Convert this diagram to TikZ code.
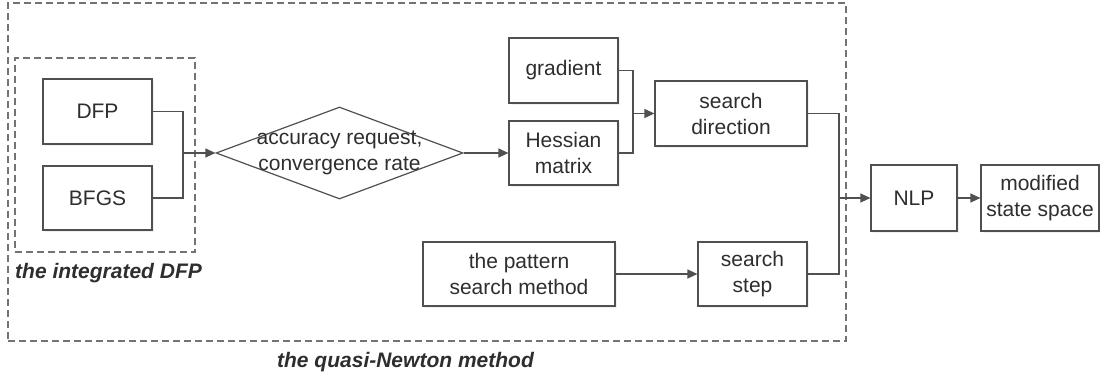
\documentclass[tikz,border=0pt]{standalone}
\usepackage{fontspec}
\setmainfont{Liberation Sans}
\usetikzlibrary{shapes.geometric,arrows.meta,shadows}
\definecolor{linec}{HTML}{505050}
\definecolor{textc}{HTML}{2E2E2E}
\tikzset{
  box/.style={draw=linec, line width=1.2pt, fill=white, align=center, inner sep=0pt,
    text=textc, font=\fontsize{21}{26}\selectfont,
    drop shadow={opacity=0.12, shadow xshift=1.5pt, shadow yshift=-1.5pt}},
  dbox/.style={draw=linec!80, line width=1.2pt, dash pattern=on 7pt off 4pt, inner sep=0pt},
  conn/.style={draw=linec, line width=1.2pt},
  arr/.style={conn, -{Triangle[length=10pt,width=9pt]}},
  lbl/.style={text=textc, font=\fontsize{21}{26}\selectfont\bfseries\itshape, inner sep=0pt},
}
\begin{document}
\begin{tikzpicture}[x=1pt,y=-1pt]
\useasboundingbox (0,0) rectangle (1100,381);
% containers
\node[dbox, minimum width=838pt, minimum height=338pt] (outer) at (427,172) {};
\node[dbox, minimum width=180pt, minimum height=194pt] (inner) at (105,155) {};
\node[lbl, anchor=west] (innerlbl) at (15,273) {the integrated DFP};
\node[lbl] (outerlbl) at (405.5,362) {the quasi-Newton method};
% boxes
\node[box, minimum width=109pt, minimum height=65pt] (dfp) at (97.5,111.5) {DFP};
\node[box, minimum width=109pt, minimum height=64pt] (bfgs) at (97.5,198) {BFGS};
\node[diamond, draw=linec, line width=1.2pt, fill=white, inner sep=0pt, aspect=2.68,
  minimum width=247pt, minimum height=92pt] (acc) at (339.5,153) {};
\node[align=center, text=textc, font=\fontsize{21}{26}\selectfont, inner sep=0pt] (acctext) at (acc.center) {accuracy request,\\convergence rate};
\node[box, minimum width=109pt, minimum height=65pt] (grad) at (563.5,70.5) {gradient};
\node[box, minimum width=109pt, minimum height=64pt] (hess) at (563.5,153) {Hessian\\matrix};
\node[box, minimum width=152pt, minimum height=65pt] (sd) at (731,113.5) {search\\direction};
\node[box, minimum width=192pt, minimum height=64pt] (pat) at (519,274) {the pattern\\search method};
\node[box, minimum width=109pt, minimum height=64pt] (step) at (752.5,274) {search\\step};
\node[box, minimum width=86pt, minimum height=66pt] (nlp) at (914,198) {NLP};
\node[box, minimum width=118pt, minimum height=66pt] (mod) at (1040,198) {modified\\state space};
% junctions
\coordinate (j1) at (183,153);
\coordinate (j2) at (633,113.5);
\coordinate (j3) at (839,198);
% connectors
\draw[conn] (dfp.east) -| (j1);
\draw[conn] (bfgs.east) -| (j1);
\draw[arr] (j1) -- (acc.west);
\draw[arr] (acc.east) -- (hess.west);
\draw[conn] (grad.east) -| (j2);
\draw[conn] (hess.east) -| (j2);
\draw[arr] (j2) -- (sd.west);
\draw[arr] (pat.east) -- (step.west);
\draw[conn] (sd.east) -| (j3);
\draw[conn] (step.east) -| (j3);
\draw[arr] (j3) -- (nlp.west);
\draw[arr] (nlp.east) -- (mod.west);
\end{tikzpicture}
\end{document}
